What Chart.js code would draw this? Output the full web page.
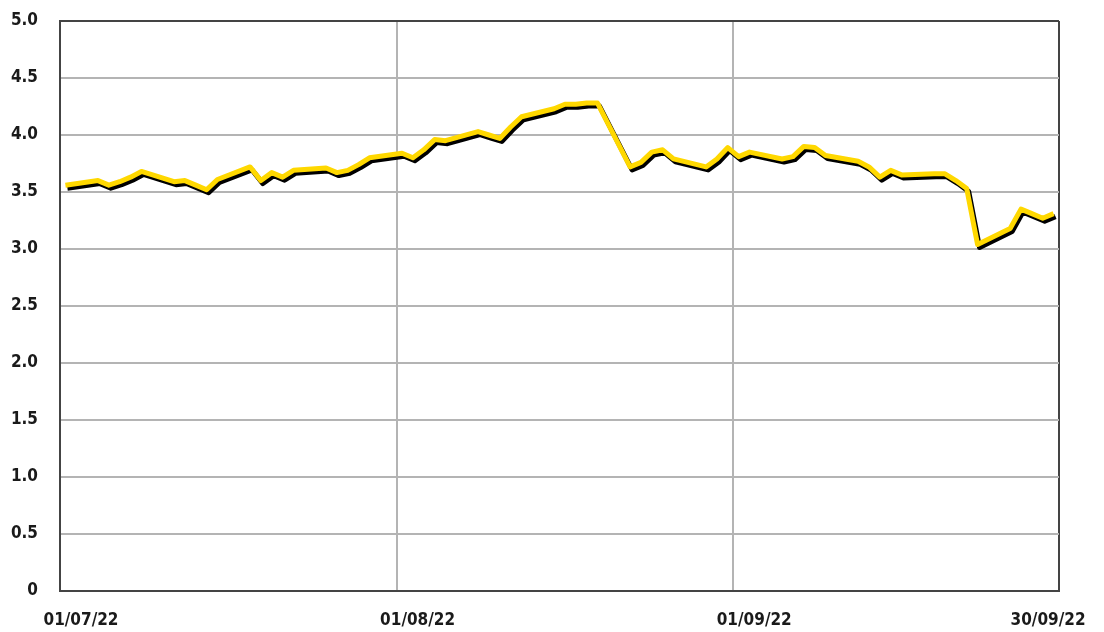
<!DOCTYPE html>
<html>
<head>
<meta charset="utf-8">
<script src="https://cdn.jsdelivr.net/npm/chart.js@4"></script>
<style>
  html, body { margin: 0; padding: 0; background: #fff; }
  #wrap { width: 1104px; height: 632px; }
</style>
</head>
<body>
<div id="wrap"><canvas id="priceChart" width="1104" height="632"></canvas></div>
<script>
// trading days and closing values
const dates = [
  '2022-07-01','2022-07-04','2022-07-05','2022-07-06','2022-07-07','2022-07-08',
  '2022-07-11','2022-07-12','2022-07-13','2022-07-14','2022-07-15',
  '2022-07-18','2022-07-19','2022-07-20','2022-07-21','2022-07-22',
  '2022-07-25','2022-07-26','2022-07-27','2022-07-28','2022-07-29',
  '2022-08-01','2022-08-02','2022-08-03','2022-08-04','2022-08-05',
  '2022-08-08','2022-08-09','2022-08-10','2022-08-11','2022-08-12',
  '2022-08-15','2022-08-16','2022-08-17','2022-08-18','2022-08-19',
  '2022-08-22','2022-08-23','2022-08-24','2022-08-25','2022-08-26',
  '2022-08-29','2022-08-30','2022-08-31','2022-09-01','2022-09-02',
  '2022-09-05','2022-09-06','2022-09-07','2022-09-08','2022-09-09',
  '2022-09-12','2022-09-13','2022-09-14','2022-09-15','2022-09-16',
  '2022-09-19','2022-09-20','2022-09-21','2022-09-22','2022-09-23',
  '2022-09-26','2022-09-27','2022-09-28','2022-09-29','2022-09-30'
];
const values = [
  3.56, 3.60, 3.56, 3.59, 3.63, 3.68,
  3.59, 3.60, 3.56, 3.52, 3.61,
  3.72, 3.60, 3.67, 3.63, 3.69,
  3.71, 3.67, 3.69, 3.74, 3.80,
  3.84, 3.80, 3.87, 3.96, 3.95,
  4.03, 4.00, 3.97, 4.07, 4.16,
  4.23, 4.27, 4.27, 4.28, 4.28,
  3.72, 3.76, 3.85, 3.87, 3.79,
  3.72, 3.79, 3.89, 3.81, 3.85,
  3.79, 3.81, 3.90, 3.89, 3.82,
  3.77, 3.72, 3.63, 3.69, 3.65,
  3.66, 3.66, 3.60, 3.53, 3.04,
  3.18, 3.35, 3.31, 3.27, 3.31
];

const xTickDates = ['2022-07-01', '2022-08-01', '2022-09-01', '2022-10-01'];
const xTickLabels = ['01/07/22', '01/08/22', '01/09/22', '30/09/22'];
const yMin = 0, yMax = 5, yStep = 0.5;

const toTime = (d, h) => Date.parse(d + 'T' + (h || '00') + ':00:00Z');
const points = dates.map((d, i) => ({ x: toTime(d, '12'), y: values[i] }));
const xTicks = xTickDates.map(d => toTime(d));

const labelFont = { family: "'DejaVu Sans Condensed', Roboto, sans-serif", size: 17, weight: 'bold' };
const gridGrey = '#b4b4b4';
const frame = '#444444';

// black drop shadow under the yellow line
const lineShadow = {
  id: 'lineShadow',
  beforeDatasetDraw(chart) {
    const ctx = chart.ctx;
    ctx.save();
    ctx.shadowColor = '#000';
    ctx.shadowOffsetX = 2;
    ctx.shadowOffsetY = 3;
    ctx.shadowBlur = 0;
  },
  afterDatasetDraw(chart) {
    chart.ctx.restore();
  }
};

new Chart(document.getElementById('priceChart'), {
  type: 'line',
  data: {
    datasets: [{
      data: points,
      borderColor: '#ffd800',
      borderWidth: 5,
      borderJoinStyle: 'round',
      pointRadius: 0,
      tension: 0,
      fill: false
    }]
  },
  options: {
    responsive: false,
    animation: false,
    layout: { padding: { top: 21, right: 45, left: 0, bottom: 0 } },
    plugins: { legend: { display: false }, tooltip: { enabled: false } },
    scales: {
      x: {
        type: 'linear',
        min: xTicks[0],
        max: xTicks[xTicks.length - 1],
        afterBuildTicks: scale => { scale.ticks = xTicks.map(v => ({ value: v })); },
        afterFit: scale => { scale.height = 41; scale.paddingLeft = 0; scale.paddingRight = 0; },
        grid: {
          drawTicks: false,
          lineWidth: 2,
          color: ctx => (ctx.index === xTicks.length - 1 ? frame : gridGrey)
        },
        border: { display: true, color: frame, width: 2 },
        ticks: {
          autoSkip: false,
          maxRotation: 0,
          labelOffset: 21,
          padding: 19,
          color: '#1a1a1a',
          font: labelFont,
          callback: (v, i) => (i === xTickLabels.length - 1
            ? xTickLabels[i] + '            '
            : xTickLabels[i])
        }
      },
      y: {
        min: yMin,
        max: yMax,
        afterFit: scale => { scale.width = 60; scale.paddingTop = 0; scale.paddingBottom = 0; },
        grid: {
          drawTicks: false,
          lineWidth: 2,
          color: ctx => (ctx.tick && ctx.tick.value === yMax ? frame : gridGrey)
        },
        border: { display: true, color: frame, width: 2 },
        ticks: {
          stepSize: yStep,
          padding: 22,
          color: '#1a1a1a',
          font: labelFont,
          callback: v => (v === 0 ? '0' : v.toFixed(1))
        }
      }
    }
  },
  plugins: [lineShadow]
});
</script>
</body>
</html>
